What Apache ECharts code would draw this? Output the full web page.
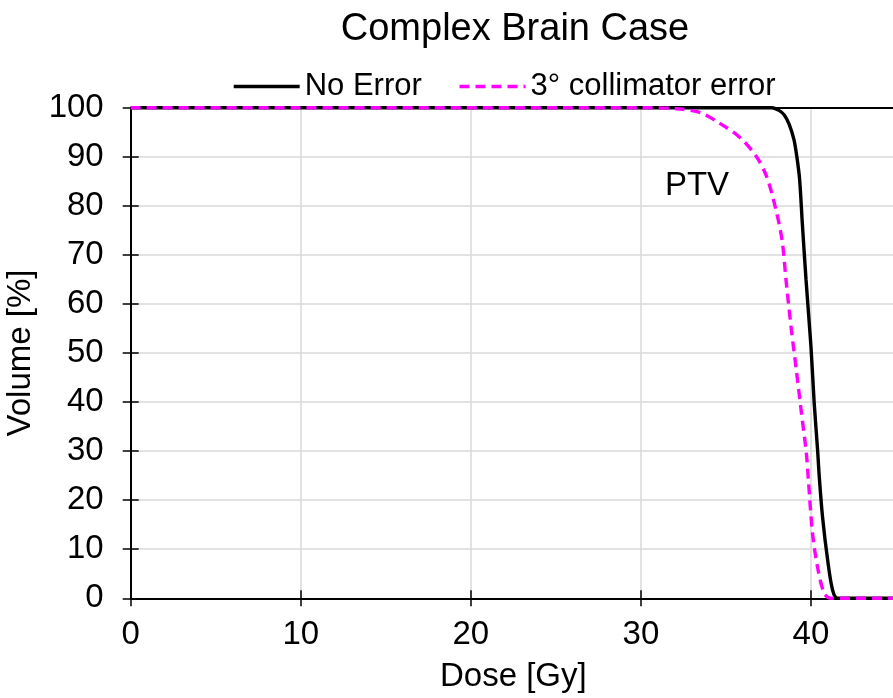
<!DOCTYPE html>
<html>
<head>
<meta charset="utf-8">
<script src="https://cdn.jsdelivr.net/npm/echarts@6/dist/echarts.min.js"></script>
<style>html,body{margin:0;padding:0;background:#fff}#c{width:893px;height:698px}</style>
</head>
<body>
<div id="c"></div>
<script>
const title = 'Complex Brain Case';
const xName = 'Dose [Gy]';
const yName = 'Volume [%]';
const seriesNames = ['No Error', '3° collimator error'];
const noErrorDose = [0, 37.7, 38.14, 38.43, 38.72, 39.0, 39.17, 39.33, 39.49, 39.71, 40.0, 40.19, 40.39, 40.49, 40.68, 40.98, 41.27, 41.56, 45];
const noErrorVol  = [100, 100, 99.4, 98.5, 96.6, 93.5, 90.0, 85.5, 76.5, 64.9, 51.3, 39.8, 30.2, 24.7, 16.6, 7.8, 1.7, 0, 0];
const collDose = [0, 30, 32.1, 33.5, 34.6, 35.8, 36.8, 37.4, 37.9, 38.3, 38.55, 38.85, 39.14, 39.44, 39.73, 39.85, 40.09, 40.39, 40.78, 41.17, 45];
const collVol  = [100, 100, 99.8, 99, 96.9, 94, 90, 85.9, 79.8, 73, 64.3, 54.7, 46.5, 37.8, 29.6, 24, 13.3, 6.3, 1, 0, 0];
const ptvLabel = { text: 'PTV', dose: 33.3, vol: 84 };

const font = 'Liberation Sans, Arial, sans-serif';
const fs = 33;
const zip = (a, b) => a.map((v, i) => [v, b[i]]);

const chart = echarts.init(document.getElementById('c'), null, { renderer: 'canvas' });
chart.setOption({
  animation: false,
  backgroundColor: '#fff',
  title: { text: title, left: 510, textAlign: 'center', top: 6, textStyle: { fontFamily: font, fontSize: 38, fontWeight: 'normal', color: '#000' } },
  legend: {
    left: 227, top: 66, itemWidth: 66, itemHeight: 14, itemGap: 36,
    itemStyle: { opacity: 0 },
    lineStyle: { width: 3.4 },
    textStyle: { fontFamily: font, fontSize: 31, color: '#000' },
    data: seriesNames
  },
  grid: { left: 130.7, right: -3, top: 107.7, bottom: 99.7, outerBoundsMode: 'none', containLabel: false, show: false },
  xAxis: [
    { type: 'value', min: 0, max: 45, interval: 10, name: xName, nameLocation: 'middle', nameGap: 62,
      nameTextStyle: { fontFamily: font, fontSize: fs, color: '#000' },
      axisLine: { show: true, lineStyle: { color: '#000', width: 2 } },
      axisTick: { show: true, inside: false, length: 8, lineStyle: { color: '#000', width: 1.5 } },
      axisLabel: { fontFamily: font, fontSize: fs, color: '#000', margin: 20, showMaxLabel: false },
      splitLine: { show: true, lineStyle: { color: '#d9d9d9', width: 1.5 } } },
    { type: 'value', min: 0, max: 45, interval: 10, position: 'bottom',
      axisLine: { show: false }, axisLabel: { show: false }, splitLine: { show: false },
      axisTick: { show: true, inside: true, length: 8, lineStyle: { color: '#000', width: 1.5 } } },
    { type: 'value', min: 0, max: 45, interval: 10, position: 'top',
      axisLine: { show: true, lineStyle: { color: '#000', width: 2 } }, axisLabel: { show: false }, splitLine: { show: false },
      axisTick: { show: false } }
  ],
  yAxis: [
    { type: 'value', min: 0, max: 100, interval: 10, name: yName, nameLocation: 'middle', nameGap: 81,
      nameTextStyle: { fontFamily: font, fontSize: fs, color: '#000' },
      axisLine: { show: true, lineStyle: { color: '#000', width: 2 } },
      axisTick: { show: true, inside: false, length: 8, lineStyle: { color: '#000', width: 1.5 } },
      axisLabel: { fontFamily: font, fontSize: fs, color: '#000', margin: 27 },
      splitLine: { show: true, lineStyle: { color: '#d9d9d9', width: 1.5 } } },
    { type: 'value', min: 0, max: 100, interval: 10, position: 'left',
      axisLine: { show: false }, axisLabel: { show: false }, splitLine: { show: false },
      axisTick: { show: true, inside: true, length: 8, lineStyle: { color: '#000', width: 1.5 } } }
  ],
  series: [
    { name: seriesNames[0], type: 'line', data: zip(noErrorDose, noErrorVol), smooth: 0.3, symbol: 'none',
      lineStyle: { color: '#000', width: 3.4 }, itemStyle: { color: '#000' }, z: 3,
      markPoint: { symbol: 'circle', symbolSize: 0, data: [{ coord: [ptvLabel.dose, ptvLabel.vol], value: ptvLabel.text }],
        label: { show: true, position: 'inside', formatter: ptvLabel.text, fontFamily: font, fontSize: fs, color: '#000' } } },
    { name: seriesNames[1], type: 'line', data: zip(collDose, collVol), smooth: 0.3, symbol: 'none',
      lineStyle: { color: '#ff00ff', width: 3.4, type: [10, 6] }, itemStyle: { color: '#ff00ff' }, z: 4 }
  ]
});
</script>
</body>
</html>
